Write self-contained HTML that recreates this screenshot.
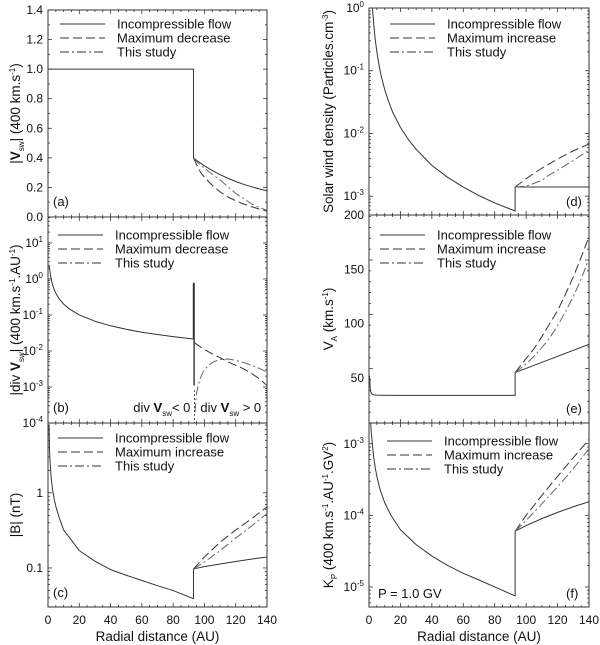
<!DOCTYPE html>
<html><head><meta charset="utf-8"><style>
html,body{margin:0;padding:0;background:#fff;}
svg{display:block;font-family:"Liberation Sans",sans-serif;}
</style></head><body>
<svg id="fig" width="600" height="645" viewBox="0 0 600 645" xmlns="http://www.w3.org/2000/svg"></svg>
<script>
// ---- data (r in AU) ----
const aIncR=[0,93,93,95,100,105,110,115,120,125,130,135,140];
const aIncV=[1,1,0.4,0.383,0.346,0.314,0.286,0.262,0.24,0.221,0.205,0.19,0.177];
const aMaxR=[93,94.5,96,98,100,103,106,110,115,120,125,130,135,140];
const aMaxV=[0.4,0.365,0.33,0.295,0.27,0.235,0.205,0.17,0.135,0.11,0.088,0.07,0.054,0.04];
const aStuR=[93,96,100,105,110,115,120,125,130,135,140];
const aStuV=[0.4,0.365,0.33,0.29,0.25,0.205,0.16,0.125,0.09,0.065,0.045];

const bIncR=[0.4,0.7,1,1.5,2,3,4,5,7,10,14,20,30,40,50,60,70,80,93];
const bIncV=[2.4,2.4,2,1.33,1,0.67,0.5,0.4,0.286,0.2,0.143,0.1,0.067,0.05,0.04,0.033,0.0286,0.025,0.0215];
const bSpikeR=[93,93,93.4,93.4];
const bSpikeV=[0.0215,0.75,0.75,0.0011];
const bMaxR=[93.5,100,105,110,115,120,125,130,135,140];
const bMaxV=[0.017,0.011,0.0083,0.0065,0.005,0.004,0.0032,0.0024,0.0017,0.0011];
const bStuR=[94,94.5,95,96,97,98.5,100,103,106,110,115,120,125,130,135,140];
const bStuV=[0.0002,0.0004,0.00068,0.0011,0.0016,0.0023,0.003,0.0041,0.005,0.0058,0.006,0.0055,0.0048,0.004,0.0033,0.0026];

const cIncR=[0.7,0.85,1,1.5,2,3,4,5,7,10,14,20,30,40,50,60,70,80,93,93,100,110,120,130,140];
const cIncV=[8,5,3.4,2.3,1.6,1.07,0.82,0.66,0.48,0.32,0.25,0.17,0.123,0.095,0.08,0.068,0.058,0.05,0.039,0.097,0.104,0.113,0.122,0.131,0.14];
const cMaxR=[93,100,110,120,130,140];
const cMaxV=[0.097,0.14,0.22,0.32,0.45,0.65];
const cStuR=[93,100,110,120,130,140];
const cStuV=[0.097,0.12,0.17,0.25,0.36,0.53];

const dIncR=[2.2,2.5,3,3.5,4,5,6,7,8,10,12,15,20,25,30,40,50,60,70,80,93,93,140];
const dIncV=[1,0.8,0.56,0.41,0.31,0.2,0.139,0.102,0.078,0.05,0.035,0.022,0.0125,0.008,0.0056,0.0031,0.002,0.0014,0.00102,0.00078,0.00058,0.0014,0.0014];
const dMaxR=[93,100,110,120,130,140];
const dMaxV=[0.0014,0.0019,0.0028,0.0039,0.0053,0.0068];
const dStuR=[93,100,105,110,115,120,125,130,135,140];
const dStuV=[0.0014,0.00145,0.0016,0.0018,0.0022,0.0026,0.0031,0.0037,0.0045,0.0054];

const eIncR=[0.3,0.5,0.7,1,1.5,2,3,5,20,93,93,140];
const eIncV=[52,47,42,38,36,35,34.5,34.2,34,34,55,81];
const eMaxR=[93,100,105,110,115,120,125,130,135,140];
const eMaxV=[55,68,77,88,100,112,127,143,161,180];
const eStuR=[93,100,105,110,115,120,125,130,135,140];
const eStuV=[55,63,70,78,87,98,111,125,141,160];

const fIncR=[1,1.5,2,3,4,5,7,10,14,20,30,40,50,60,70,80,93,93,100,110,120,130,140];
const fIncV=[2e-3,1.4e-3,1.05e-3,6.5e-4,4.6e-4,3.5e-4,2.3e-4,1.5e-4,1e-4,6.3e-5,3.9e-5,2.7e-5,2e-5,1.55e-5,1.25e-5,1e-5,7.5e-6,6e-5,7.2e-5,9e-5,1.1e-4,1.32e-4,1.55e-4];
const fMaxR=[93,100,110,120,130,140];
const fMaxV=[6e-5,1e-4,1.9e-4,3.5e-4,6.4e-4,1.15e-3];
const fStuR=[93,100,110,120,130,140];
const fStuV=[6e-5,8.5e-5,1.45e-4,2.5e-4,4.5e-4,8.5e-4];

const xTicks=[0,20,40,60,80,100,120,140];

// ---- drawing ----
const NS="http://www.w3.org/2000/svg";
const svg=document.getElementById('fig');
function mk(tag,attrs,parent){const e=document.createElementNS(NS,tag);for(const k in attrs)e.setAttribute(k,attrs[k]);(parent||svg).appendChild(e);return e;}
const COL="#333";
const STY={inc:"",max:"9,4",stu:"9,3,2,3"};

function panel(p){
  const g=mk('g',{});
  
  
  const xs=v=>p.x0+(v/140)*(p.x1-p.x0);
  const ys=v=>{
    if(p.log){const t=(Math.log10(v)-p.lmin)/(p.lmax-p.lmin);return p.y1-t*(p.y1-p.y0);}
    return p.y1-(v-p.min)/(p.max-p.min)*(p.y1-p.y0);
  };
  const cid='clip'+p.id;
  const cp=mk('clipPath',{id:cid},g);mk('rect',{x:p.x0,y:p.y0,width:p.x1-p.x0,height:p.y1-p.y0},cp);
  for(let v=0;v<=140;v+=5){
    const L=(v%20===0)?4:2;const x=xs(v);
    const t1=mk('line',{x1:x,x2:x,y1:p.y1,y2:p.y1-L,stroke:COL,'stroke-width':0.8},g);
    
    const t2=mk('line',{x1:x,x2:x,y1:p.y0,y2:p.y0+L,stroke:COL,'stroke-width':0.8},g);
    
  }
  if(p.xlabels){
    xTicks.forEach(v=>{const t=mk('text',{x:xs(v),y:p.y1+17,'text-anchor':'middle','font-size':12,fill:'#111'},g);t.textContent=v;
      });
    const xt=mk('text',{x:(p.x0+p.x1)/2,y:641,'text-anchor':'middle','font-size':13.5,fill:'#111'},g);xt.textContent='Radial distance (AU)';
    
  }
  function ytick(y,L){
    const a=mk('line',{x1:p.x0,x2:p.x0+L,y1:y,y2:y,stroke:COL,'stroke-width':0.8},g);
    
    const b=mk('line',{x1:p.x1,x2:p.x1-L,y1:y,y2:y,stroke:COL,'stroke-width':0.8},g);
    
  }
  function ylabel(y,txt,sup){
    const t=mk('text',{x:p.x0-5,y:y+4,'text-anchor':'end','font-size':12,fill:'#111'},g);
    
    if(sup!==undefined){t.textContent=txt;const s=mk('tspan',{dy:-5,'font-size':8},t);s.textContent=sup;}
    else t.textContent=txt;
  }
  if(p.log){
    for(let d=Math.floor(p.lmin);d<=Math.ceil(p.lmax);d++){
      for(let m=1;m<10;m++){const v=m*Math.pow(10,d);const lv=Math.log10(v);
        if(lv<p.lmin-1e-6||lv>p.lmax+1e-6)continue;ytick(ys(v),m===1?4:2);}
    }
    p.ylab.forEach(l=>{ if(l.sup!==undefined) ylabel(ys(l.v),'10',l.sup); else ylabel(ys(l.v),l.t);});
  } else {
    for(let v=p.min;v<=p.max+1e-9;v+=p.minor){const major=Math.abs((v-p.min)/p.major-Math.round((v-p.min)/p.major))<1e-6;ytick(ys(v),major?4:2);}
    p.ylab.forEach(l=>ylabel(ys(l.v),l.t));
  }
  const fr=mk('rect',{x:p.x0,y:p.y0,width:p.x1-p.x0,height:p.y1-p.y0,fill:'none',stroke:COL,'stroke-width':1},g);
  
  p.series.forEach(s=>{
    const pts=s.r.map((r,i)=>xs(r).toFixed(2)+','+ys(s.v[i]).toFixed(2)).join(' ');
    const pl=mk('polyline',{points:pts,fill:'none',stroke:s.c||COL,'stroke-width':s.w||1,'stroke-dasharray':STY[s.k],'stroke-linejoin':'round','clip-path':'url(#'+cid+')'},g);
    
  });
  const lg=mk('g',{},g);
  p.leg.items.forEach((it,i)=>{
    const y=p.leg.y+i*14;
    const ln=mk('line',{x1:p.leg.x,x2:p.leg.x+45,y1:y,y2:y,stroke:COL,'stroke-width':1,'stroke-dasharray':STY[it[1]]},lg);
    
    const t=mk('text',{x:p.leg.x+57,y:y+4.5,'font-size':13,fill:'#111'},lg);t.textContent=it[0];
    
  });
  const tg=mk('text',{x:p.tag[0],y:p.tag[1],'font-size':13,fill:'#111'},g);tg.textContent='('+p.id+')';
  
  const yt=mk('text',{transform:'translate('+p.yt[0]+','+((p.y0+p.y1)/2)+') rotate(-90)','text-anchor':'middle','font-size':13.5,fill:'#111'},g);
  
  p.ytitle.forEach(seg=>{const s=mk('tspan',{},yt);if(seg.dy)s.setAttribute('dy',seg.dy);if(seg.fs)s.setAttribute('font-size',seg.fs);if(seg.b)s.setAttribute('font-weight','bold');s.textContent=seg.t;});
  return {g,xs,ys};
}

const L1=[48,267],R1=[369,589];
const legD=[['Incompressible flow','inc'],['Maximum decrease','max'],['This study','stu']];
const legI=[['Incompressible flow','inc'],['Maximum increase','max'],['This study','stu']];

panel({id:'a',x0:L1[0],x1:L1[1],y0:10,y1:217,min:0,max:1.4,major:0.2,minor:0.1,
  ylab:[0,0.2,0.4,0.6,0.8,1.0,1.2,1.4].map(v=>({v,t:v.toFixed(1)})),
  series:[{name:'a-incompressible',k:'inc',r:aIncR,v:aIncV},{name:'a-maximum-decrease',k:'max',r:aMaxR,v:aMaxV},{name:'a-this-study',k:'stu',r:aStuR,v:aStuV,c:'#666'}],
  leg:{x:60,y:24,items:legD},tag:[53,206],yt:[20],
  ytitle:[{t:'|'},{t:'V',b:1},{t:'sw',fs:8,dy:4},{t:'| (400 km.s',dy:-4},{t:'-1',fs:8,dy:-5},{t:')',dy:5}]});

const pb=panel({id:'b',x0:L1[0],x1:L1[1],y0:217,y1:423,log:1,lmin:-4,lmax:1.72,
  ylab:[-4,-3,-2,-1,0,1].map(d=>({v:Math.pow(10,d),sup:String(d)})),
  series:[{name:'b-incompressible',k:'inc',r:bIncR,v:bIncV},{name:'b-shock-spike',k:'inc',r:bSpikeR,v:bSpikeV,w:1.4},{name:'b-maximum-decrease',k:'max',r:bMaxR,v:bMaxV},{name:'b-this-study',k:'stu',r:bStuR,v:bStuV,c:'#666'}],
  leg:{x:58,y:235,items:legD},tag:[53,412],yt:[20],
  ytitle:[{t:'|div '},{t:'V',b:1},{t:'sw',fs:8,dy:4},{t:'| (400 km.s',dy:-4},{t:'-1',fs:8,dy:-5},{t:'.AU',dy:5},{t:'-1',fs:8,dy:-5},{t:')',dy:5}]});
(function(){
  const x=pb.xs(93.6);
  const dl=mk('line',{x1:x,x2:x,y1:390,y2:423,stroke:COL,'stroke-width':0.8,'stroke-dasharray':'2,2'});
  
  function lab(xx,anchor,sign,name){
    const t=mk('text',{x:xx,y:412,'text-anchor':anchor,'font-size':13,fill:'#111'});
    
    const a=mk('tspan',{},t);a.textContent='div ';
    const b=mk('tspan',{'font-weight':'bold'},t);b.textContent='V';
    const c=mk('tspan',{'font-size':8,dy:4},t);c.textContent='sw';
    const d=mk('tspan',{dy:-4},t);d.textContent=sign;
  }
  lab(x-4,'end','< 0','div-negative-label');
  lab(x+6,'start',' > 0','div-positive-label');
})();

panel({id:'c',x0:L1[0],x1:L1[1],y0:423,y1:607,log:1,lmin:-1.52,lmax:0.93,xlabels:1,
  ylab:[{v:0.1,t:'0.1'},{v:1,t:'1'}],
  series:[{name:'c-incompressible',k:'inc',r:cIncR,v:cIncV},{name:'c-maximum-increase',k:'max',r:cMaxR,v:cMaxV},{name:'c-this-study',k:'stu',r:cStuR,v:cStuV,c:'#666'}],
  leg:{x:58,y:438,items:legI},tag:[53,597],yt:[20],
  ytitle:[{t:'|B| (nT)'}]});

panel({id:'d',x0:R1[0],x1:R1[1],y0:8,y1:215,log:1,lmin:-3.3,lmax:0,
  ylab:[-3,-2,-1,0].map(d=>({v:Math.pow(10,d),sup:String(d)})),
  series:[{name:'d-incompressible',k:'inc',r:dIncR,v:dIncV},{name:'d-maximum-increase',k:'max',r:dMaxR,v:dMaxV},{name:'d-this-study',k:'stu',r:dStuR,v:dStuV,c:'#666'}],
  leg:{x:390,y:24,items:legI},tag:[566,206],yt:[333],
  ytitle:[{t:'Solar wind density (Particles.cm'},{t:'-3',fs:8,dy:-5},{t:')',dy:5}]});

panel({id:'e',x0:R1[0],x1:R1[1],y0:215,y1:423,min:8.6,max:200,major:50,minor:10,
  ylab:[50,100,150,200].map(v=>({v,t:String(v)})),
  series:[{name:'e-incompressible',k:'inc',r:eIncR,v:eIncV},{name:'e-maximum-increase',k:'max',r:eMaxR,v:eMaxV},{name:'e-this-study',k:'stu',r:eStuR,v:eStuV,c:'#666'}],
  leg:{x:380,y:235,items:legI},tag:[566,413],yt:[333],
  ytitle:[{t:'V'},{t:'A',fs:8,dy:4},{t:' (km.s',dy:-4},{t:'-1',fs:8,dy:-5},{t:')',dy:5}]});

panel({id:'f',x0:R1[0],x1:R1[1],y0:423,y1:607,log:1,lmin:-5.28,lmax:-2.71,xlabels:1,
  ylab:[-5,-4,-3].map(d=>({v:Math.pow(10,d),sup:String(d)})),
  series:[{name:'f-incompressible',k:'inc',r:fIncR,v:fIncV},{name:'f-maximum-increase',k:'max',r:fMaxR,v:fMaxV},{name:'f-this-study',k:'stu',r:fStuR,v:fStuV,c:'#666'}],
  leg:{x:387,y:441,items:legI},tag:[566,598],yt:[333],
  ytitle:[{t:'K'},{t:'P',fs:8,dy:4},{t:' (400 km.s',dy:-4},{t:'-1',fs:8,dy:-5},{t:'.AU',dy:5},{t:'-1',fs:8,dy:-5},{t:'.GV',dy:5},{t:'2',fs:8,dy:-5},{t:')',dy:5}]});
(function(){const t=mk('text',{x:378,y:598,'font-size':13,fill:'#111'});t.textContent='P = 1.0 GV';
  })();
</script>
</body></html>
